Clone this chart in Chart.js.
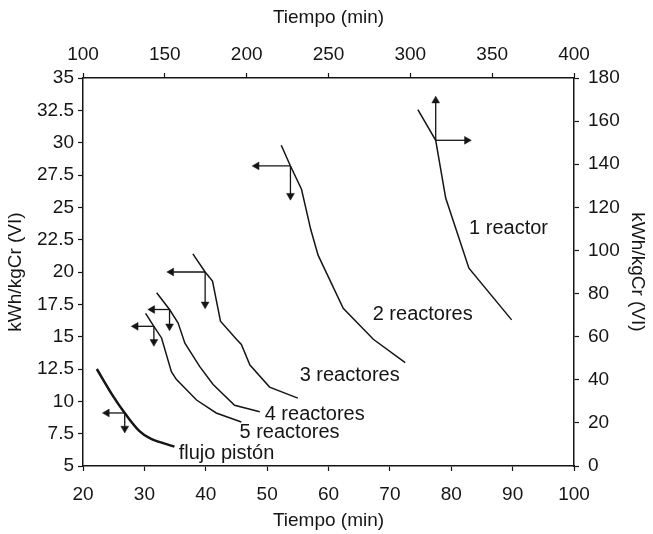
<!DOCTYPE html>
<html>
<head>
<meta charset="utf-8">
<script src="https://cdn.jsdelivr.net/npm/chart.js@4.4.0/dist/chart.umd.min.js"></script>
<style>
  html, body { margin: 0; padding: 0; background: #fff; }
  #wrap { width: 653px; height: 534px; position: relative; }
</style>
</head>
<body>
<div id="wrap"><canvas id="myChart"></canvas></div>
<script>
// curves (bottom / left axes, except 1 reactor: top / right axes)
var time1 = [304.6, 315.5, 321.6, 335.8, 361.9];
var energy1 = [165.3, 151.1, 124.3, 91.8, 67.8];

var time2 = [52.3, 53.8, 55.6, 57.1, 58.3, 62.4, 67.3, 72.5];
var energy2 = [29.8, 28.2, 26.4, 23.3, 21.3, 17.2, 14.8, 13.0];

var time3 = [37.9, 39.9, 41.1, 42.4, 45.0, 45.8, 47.2, 50.4, 55.0];
var energy3 = [21.4, 20.0, 19.3, 16.2, 14.8, 14.4, 12.8, 11.1, 10.25];

var time4 = [32.0, 34.1, 35.5, 36.6, 39.0, 41.2, 44.7, 48.8];
var energy4 = [18.4, 17.1, 16.05, 14.5, 12.7, 11.3, 9.7, 9.2];

var time5 = [30.2, 31.55, 32.8, 34.4, 35.2, 38.5, 41.7, 45.8];
var energy5 = [16.8, 15.8, 14.9, 12.3, 11.7, 10.1, 9.1, 8.4];

var timePF = [22.25, 24.9, 26.8, 29.2, 31.1, 34.9];
var energyPF = [12.5, 10.4, 9.1, 7.7, 7.1, 6.5];

// arrows: corner point and tip, in data units
var arrowFromX = [315.5, 315.5, 53.8, 53.8, 39.9, 39.9, 34.1, 34.1, 31.55, 31.55, 26.8, 26.8];
var arrowFromY = [151.1, 151.1, 28.2, 28.2, 20.0, 20.0, 17.1, 17.1, 15.8, 15.8, 9.1, 9.1];
var arrowToX   = [315.5, 334.5, 48.3, 53.8, 34.4, 39.9, 31.3, 34.1, 28.6, 31.55, 23.9, 26.8];
var arrowToY   = [169.5, 151.1, 28.2, 25.9, 20.0, 17.5, 17.1, 15.8, 15.8, 14.6, 9.1, 7.9];
var arrowDir   = [0, 90, 270, 180, 270, 180, 270, 180, 270, 180, 270, 180];
var arrowTop   = [true, true, false, false, false, false, false, false, false, false, false, false];

// curve labels (bottom / left units)
var curveLabels = ['1 reactor', '2 reactores', '3 reactores', '4 reactores', '5 reactores', 'flujo pistón'];
var labelX = [82.9, 67.2, 55.3, 49.6, 45.5, 35.6];
var labelY = [23.4, 16.7, 12.0, 9.0, 7.6, 5.95];

var ink = '#151515';
var font = '"Liberation Sans", Arial, Helvetica, sans-serif';

function pts(xs, ys) {
  return xs.map(function (v, i) { return { x: v, y: ys[i] }; });
}

var datasets = [
  { data: pts(time1, energy1), xAxisID: 'x2', yAxisID: 'y2', borderWidth: 1.5 },
  { data: pts(time2, energy2), borderWidth: 1.5 },
  { data: pts(time3, energy3), borderWidth: 1.5 },
  { data: pts(time4, energy4), borderWidth: 1.5 },
  { data: pts(time5, energy5), borderWidth: 1.5 },
  { data: pts(timePF, energyPF), borderWidth: 2.5, tension: 0.35 }
].map(function (d) {
  d.borderColor = ink;
  d.pointRadius = 0;
  d.fill = false;
  if (!d.xAxisID) { d.xAxisID = 'x'; d.yAxisID = 'y'; }
  return d;
});

for (var i = 0; i < arrowFromX.length; i++) {
  datasets.push({
    data: [{ x: arrowFromX[i], y: arrowFromY[i] }, { x: arrowToX[i], y: arrowToY[i] }],
    xAxisID: arrowTop[i] ? 'x2' : 'x',
    yAxisID: arrowTop[i] ? 'y2' : 'y',
    borderColor: ink,
    borderWidth: 1.3,
    pointRadius: [0, 4.5],
    pointStyle: 'triangle',
    rotation: [0, arrowDir[i]],
    pointBackgroundColor: ink,
    pointBorderColor: ink,
    pointBorderWidth: 0.5
  });
}

var labelPlugin = {
  id: 'curveLabels',
  afterDatasetsDraw: function (chart) {
    var c = chart.ctx;
    c.save();
    c.font = '20px ' + font;
    c.fillStyle = ink;
    c.textAlign = 'left';
    c.textBaseline = 'middle';
    for (var i = 0; i < curveLabels.length; i++) {
      c.fillText(curveLabels[i],
        chart.scales.x.getPixelForValue(labelX[i]),
        chart.scales.y.getPixelForValue(labelY[i]));
    }
    c.restore();
  }
};

function axis(pos, min, max, step, size, title, pad, tpad) {
  return {
    type: 'linear',
    position: pos,
    min: min,
    max: max,
    border: { display: true, color: ink, width: 1.5 },
    grid: { drawOnChartArea: false, drawTicks: true, tickLength: 5, color: ink, tickWidth: 1.2 },
    ticks: { stepSize: step, color: ink, font: { size: 19, family: font, weight: 'normal' }, padding: pad, maxRotation: 0, autoSkip: false },
    title: { display: true, text: title, color: ink, font: { size: 19, family: font, weight: 'normal' }, padding: tpad },
    afterFit: function (s) {
      if (pos === 'left' || pos === 'right') s.width = size; else s.height = size;
    }
  };
}

var config = {
  type: 'line',
  data: { datasets: datasets },
  options: {
    responsive: true,
    maintainAspectRatio: false,
    animation: false,
    layout: { padding: 0 },
    plugins: { legend: { display: false }, tooltip: { enabled: false } },
    scales: {
      x: axis('bottom', 20, 100, 10, 68, 'Tiempo (min)', 12, 2),
      x2: axis('top', 100, 400, 50, 78, 'Tiempo (min)', 7, 6),
      y: axis('left', 5, 35, 2.5, 83, 'kWh/kgCr (VI)', 4, 4),
      y2: axis('right', 0, 180, 20, 79, 'kWh/kgCr (VI)', 9, 4)
    }
  },
  plugins: [labelPlugin]
};

var myChart = new Chart(document.getElementById('myChart'), config);
</script>
</body>
</html>
